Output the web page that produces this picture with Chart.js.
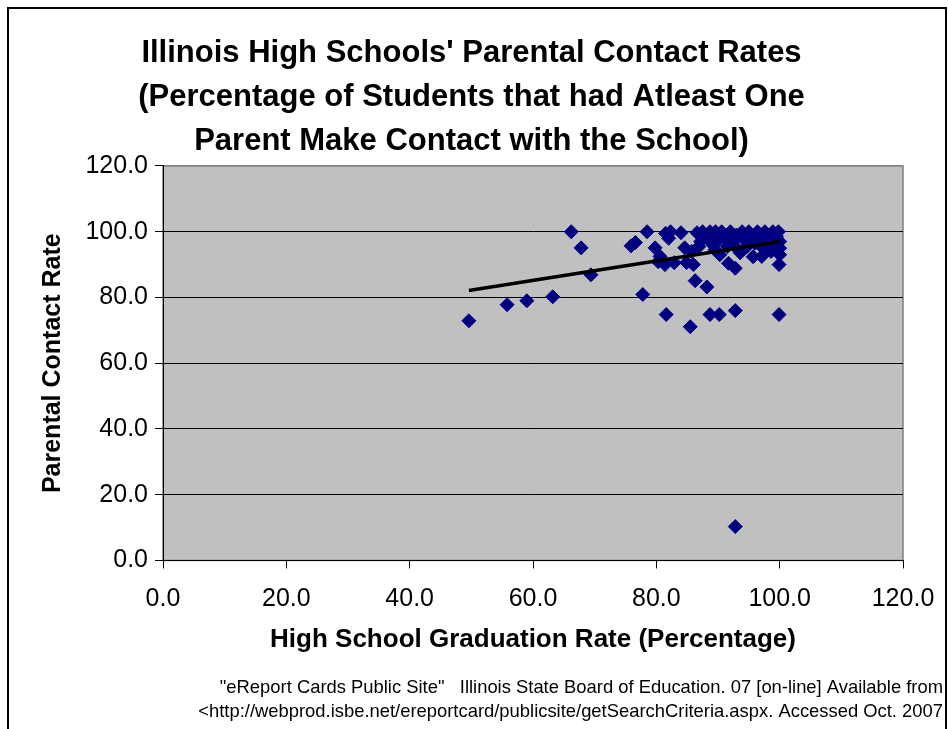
<!DOCTYPE html>
<html>
<head>
<meta charset="utf-8">
<script src="https://cdn.jsdelivr.net/npm/chart.js@4"></script>
<style>
  body { margin: 0; background: #fff; }
  canvas { display: block; }
</style>
</head>
<body>
<canvas id="myChart" width="948" height="729"></canvas>
<script>
// graduation rate (x) and parental contact rate (y), one entry per school
const gradRate = [49.6, 55.8, 59.0, 63.2, 66.2, 67.8, 69.4, 75.9, 76.6, 77.8, 78.5, 79.8, 80.3, 80.6, 81.4, 81.6, 81.5, 82.0, 82.3, 82.9,
  84.0, 84.6, 84.9, 85.5, 85.7, 86.0, 86.3, 86.6, 88.2, 88.7, 90.2, 92.8, 92.8, 99.9, 99.9,
  87.5, 88.3, 88.7, 89.2, 89.6, 90.1, 90.3, 90.6, 91.1, 91.5, 91.7, 92.0, 92.4, 92.8, 93.0, 93.3, 93.6, 93.9, 94.3, 94.7,
  95.0, 95.4, 95.7, 96.0, 96.4, 96.8, 97.1, 97.3, 97.6, 98.0, 98.3, 98.6, 98.9, 99.2, 99.5, 99.8, 100.0, 100.0, 100.0,
  89.5, 87.2, 86.9]
const contactRate = [72.9, 77.8, 79.0, 80.2, 100.0, 95.1, 86.9, 95.7, 96.7, 80.9, 100.0, 95.1, 90.9, 92.5, 90.0, 74.8, 99.5, 98.0, 100.0, 90.6,
  99.7, 95.1, 90.6, 71.1, 94.0, 90.0, 85.1, 99.7, 83.2, 74.8, 74.8, 76.0, 10.3, 74.8, 90.0,
  100.0, 98.0, 100.0, 96.0, 100.0, 97.5, 93.0, 100.0, 98.5, 95.5, 90.4, 100.0, 97.0, 88.9, 99.0, 94.5, 93.6, 100.0, 97.5, 95.5,
  100.0, 98.5, 92.4, 96.5, 100.0, 98.0, 92.5, 95.0, 100.0, 97.0, 99.0, 94.0, 100.0, 96.5, 98.5, 100.0, 97.0, 95.0, 93.0,
  94.5, 97.0, 95.5]

// trendline ends
const trendX = [49.6, 100.0]
const trendY = [82.1, 97.0]

const titleLines = [
  "Illinois High Schools' Parental Contact Rates",
  '(Percentage of Students that had Atleast One',
  'Parent Make Contact with the School)'
]
const sourceLines = [
  '"eReport Cards Public Site"   Illinois State Board of Education. 07 [on-line] Available from',
  '<http://webprod.isbe.net/ereportcard/publicsite/getSearchCriteria.aspx. Accessed Oct. 2007'
]

const points = gradRate.map((x, i) => ({ x: x, y: contactRate[i] }))
const trend = trendX.map((x, i) => ({ x: x, y: trendY[i] }))

Chart.defaults.font.family = "'Liberation Sans', Arial, sans-serif"
Chart.defaults.color = '#000'

// gray plot area, gray plot border and the outer frame
const backdrop = {
  id: 'backdrop',
  beforeDraw(chart) {
    const { ctx, chartArea: a } = chart
    ctx.save()
    ctx.fillStyle = '#c0c0c0'
    ctx.fillRect(a.left, a.top, a.right - a.left, a.bottom - a.top)
    ctx.strokeStyle = '#808080'
    ctx.lineWidth = 1.5
    ctx.strokeRect(a.left, a.top, a.right - a.left, a.bottom - a.top)
    ctx.strokeStyle = '#000'
    ctx.lineWidth = 2
    ctx.beginPath()
    ctx.moveTo(8, 729)
    ctx.lineTo(8, 8)
    ctx.lineTo(946, 8)
    ctx.lineTo(946, 729)
    ctx.stroke()
    ctx.restore()
  }
}

const tickFmt = v => Number(v).toFixed(1)

new Chart(document.getElementById('myChart'), {
  type: 'scatter',
  data: {
    datasets: [{
      data: trend,
      showLine: true,
      borderColor: '#000',
      borderWidth: 3.5,
      pointRadius: 0
    }, {
      data: points,
      pointStyle: 'rectRot',
      pointRadius: 7,
      backgroundColor: '#000080',
      borderColor: '#000080',
      borderWidth: 1
    }]
  },
  options: {
    responsive: false,
    animation: false,
    devicePixelRatio: 1,
    layout: { padding: { left: 0, right: 5, top: 0, bottom: 0 } },
    plugins: {
      legend: { display: false },
      tooltip: { enabled: false },
      title: {
        display: true,
        text: titleLines,
        font: { size: 31, weight: 'bold', lineHeight: 1.43 },
        padding: { top: 31, bottom: 2 }
      },
      subtitle: {
        display: true,
        position: 'bottom',
        align: 'end',
        text: sourceLines,
        font: { size: 18.4, lineHeight: 1.32 },
        padding: { top: 0, bottom: 5 }
      }
    },
    scales: {
      x: {
        min: 0,
        max: 120,
        ticks: { stepSize: 20, callback: tickFmt, font: { size: 25 }, padding: 16, maxRotation: 0 },
        grid: { drawOnChartArea: false, drawTicks: true, tickLength: 8, tickColor: '#000' },
        border: { color: '#000', width: 1 },
        title: {
          display: true,
          text: 'High School Graduation Rate (Percentage)',
          font: { size: 26, weight: 'bold' },
          padding: { top: 0, bottom: 20 }
        },
        afterFit(s) {
          s.height = 115
          s.paddingRight = 45
        }
      },
      y: {
        min: 0,
        max: 120,
        ticks: { stepSize: 20, callback: tickFmt, font: { size: 25 }, padding: 7 },
        grid: {
          color: c => (c.tick && c.tick.value === 120 ? '#808080' : '#000'),
          tickColor: '#000',
          tickLength: 8,
          lineWidth: 1
        },
        border: { color: '#000', width: 1 },
        title: {
          display: true,
          text: 'Parental Contact Rate',
          font: { size: 25, weight: 'bold' },
          padding: { top: 38, bottom: 0 }
        },
        afterFit(s) {
          s.width = 163
        }
      }
    }
  },
  plugins: [backdrop]
})
</script>
</body>
</html>
